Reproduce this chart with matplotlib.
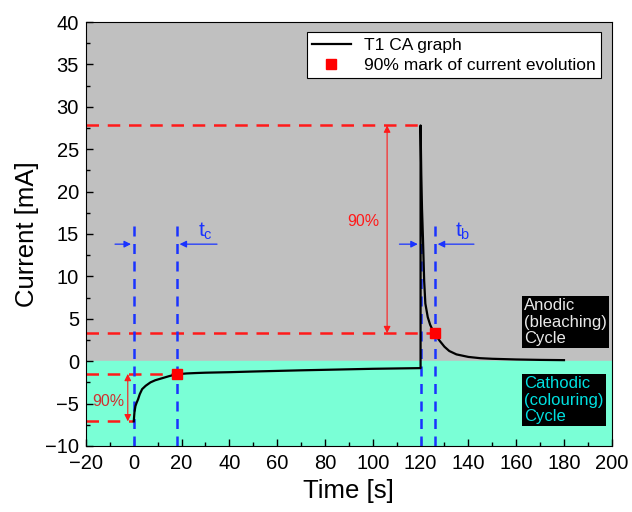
import matplotlib.pyplot as plt
from matplotlib.ticker import MultipleLocator

plt.rcParams['font.family'] = ['Liberation Sans', 'DejaVu Sans']
plt.rcParams['mathtext.fontset'] = 'custom'
plt.rcParams['mathtext.rm'] = 'Liberation Sans'
plt.rcParams['mathtext.it'] = 'Liberation Sans'

# chronoamperometry curve
time_s = [0, 0.3, 0.7, 1.2, 1.8, 2.5, 3.5, 5, 7, 9, 12, 15, 18, 22, 26, 30,
          40, 50, 60, 70, 80, 90, 100, 110, 120,
          120, 120.3, 120.6, 121, 121.5, 122, 123, 124, 125, 126, 127, 128,
          130, 132, 135, 140, 145, 150, 160, 170, 180]
current_ma = [-7.1, -6.0, -5.3, -4.9, -4.5, -3.9, -3.3, -2.9, -2.5, -2.25, -2.0,
              -1.75, -1.55, -1.45, -1.4, -1.36, -1.3, -1.22, -1.15, -1.08, -1.02,
              -0.96, -0.9, -0.86, -0.82,
              27.8, 22.0, 18.0, 14.5, 9.5, 6.8, 5.2, 4.3, 3.7, 3.3, 2.8, 2.4,
              1.7, 1.2, 0.8, 0.5, 0.35, 0.28, 0.2, 0.15, 0.12]

# 90% marks
mark_t = [18, 126]
mark_i = [-1.5, 3.3]

# reference levels (start / peak current)
cath_start, cath_mark = -7.1, -1.5
an_peak, an_mark = 27.8, 3.3
step_times = [0, 18, 120, 126]

fig = plt.figure(figsize=(6.32, 5.12), dpi=100)
ax = fig.add_axes([0.136, 0.129, 0.832, 0.828])

ax.axhspan(0, 40, color='#c0c0c0', zorder=0)
ax.axhspan(-10, 0, color='#7affd6', zorder=0)

red = '#ff1a1a'
blue = '#1a33ff'

# red dashed guide lines
for level, t_end in [(an_peak, 120), (an_mark, 126), (cath_mark, 18), (cath_start, 0)]:
    ax.plot([-20, t_end], [level, level], color=red, lw=1.8, dashes=(5, 3.5), zorder=2)

# blue dashed vertical lines
for t in step_times:
    ax.plot([t, t], [-10, 16.4], color=blue, lw=1.8, dashes=(4, 3), zorder=2)

ax.plot(time_s, current_ma, color='black', lw=1.6, zorder=3, label='T1 CA graph')
ax.plot(mark_t, mark_i, 's', color='red', ms=6.5, zorder=4, ls='none',
        label='90% mark of current evolution')

# blue arrows
arr_b = dict(arrowstyle='-|>', color=blue, lw=0.9, mutation_scale=10)
ax.annotate('', xy=(0, 13.8), xytext=(-9, 13.8), arrowprops=arr_b)
ax.annotate('', xy=(18, 13.8), xytext=(36, 13.8), arrowprops=arr_b)
ax.annotate('', xy=(120, 13.8), xytext=(110, 13.8), arrowprops=arr_b)
ax.annotate('', xy=(126, 13.8), xytext=(143.5, 13.8), arrowprops=arr_b)
ax.text(30, 15.3, r'$\mathregular{t_c}$', color=blue, fontsize=15, ha='center', va='center')
ax.text(137.5, 15.3, r'$\mathregular{t_b}$', color=blue, fontsize=15, ha='center', va='center')

# red double arrows
arr_r = dict(arrowstyle='<|-|>', color=red, lw=0.8, mutation_scale=10, shrinkA=0, shrinkB=0)
ax.annotate('', xy=(106, an_peak), xytext=(106, an_mark), arrowprops=arr_r)
ax.annotate('', xy=(-2.5, cath_mark), xytext=(-2.5, cath_start), arrowprops=arr_r)
ax.text(96, 16.5, '90%', color=red, fontsize=11.5, ha='center', va='center')
ax.text(-10.5, -4.8, '90%', color='#d03030', fontsize=11.5, ha='center', va='center')

ax.text(163.3, 4.6, 'Anodic\n(bleaching)\nCycle', color='#e8e8e8', fontsize=12,
        ha='left', va='center', linespacing=1.15,
        bbox=dict(facecolor='black', edgecolor='none', pad=1.5))
ax.text(163.3, -4.6, 'Cathodic\n(colouring)\nCycle', color='#00e0e0', fontsize=12,
        ha='left', va='center', linespacing=1.15,
        bbox=dict(facecolor='black', edgecolor='none', pad=1.5))

ax.set_xlim(-20, 200)
ax.set_ylim(-10, 40)
ax.xaxis.set_major_locator(MultipleLocator(20))
ax.xaxis.set_minor_locator(MultipleLocator(10))
ax.yaxis.set_major_locator(MultipleLocator(5))
ax.yaxis.set_minor_locator(MultipleLocator(2.5))
ax.tick_params(which='both', direction='in', top=False, right=False, labelsize=14.5)
ax.tick_params(which='major', length=5, width=1)
ax.tick_params(which='minor', length=3, width=1)
ax.tick_params(axis='x', pad=6)
ax.tick_params(axis='y', pad=5)
ax.set_xlabel('Time [s]', fontsize=18.5, labelpad=4)
ax.set_ylabel('Current [mA]', fontsize=18.5, labelpad=4)

leg = ax.legend(loc='upper right', fontsize=12.5, fancybox=False, framealpha=1,
                edgecolor='black', handlelength=2.2, borderaxespad=0.6,
                borderpad=0.3, labelspacing=0.3)
leg.get_frame().set_linewidth(0.8)

fig.savefig('out.png', dpi=100)
